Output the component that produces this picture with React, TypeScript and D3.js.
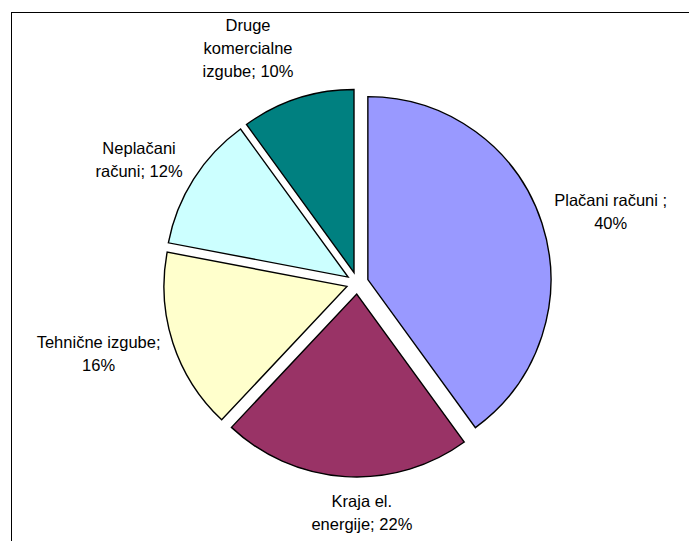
import React, { useMemo } from "react";
import * as d3 from "d3";

const categories = [
  "Plačani računi ",
  "Kraja el. energije",
  "Tehnične izgube",
  "Neplačani računi",
  "Druge komercialne izgube",
];
const values = [40, 22, 16, 12, 10];
const labelLines = [
  ["Plačani računi ;", "40%"],
  ["Kraja el.", "energije; 22%"],
  ["Tehnične izgube;", "16%"],
  ["Neplačani", "računi; 12%"],
  ["Druge", "komercialne", "izgube; 10%"],
];
const colors = ["#9999FF", "#993366", "#FFFFCC", "#CCFFFF", "#008080"];

const W = 689;
const H = 541;
const CX = 357.4;
const CY = 283;
const R = 183;
const EXPLODE = 11;
const LABEL_R = 207;
const FONT = 16.5;
const LINE_H = 23;
const FONT_FAMILY = "'Liberation Sans', Arial, sans-serif";
const labelNudgeX = [0, 28, 0, 0, 0];
const labelNudgeY = [0, 0, 0, 0, -5];

export default function App() {
  const pie = d3
    .pie<number>()
    .sort(null)
    .startAngle(0)
    .endAngle(2 * Math.PI)
    .value((d) => d);
  const arcs = pie(values);
  const arc = d3.arc<d3.PieArcDatum<number>>().innerRadius(0).outerRadius(R);

  const measure = useMemo(() => {
    const c = document.createElement("canvas").getContext("2d");
    if (c) c.font = `${FONT}px ${FONT_FAMILY}`;
    return (s: string) => (c ? c.measureText(s).width : s.length * FONT * 0.5);
  }, []);

  return (
    <svg
      width={W}
      height={H}
      style={{ position: "absolute", left: 0, top: 0, background: "#fff" }}
    >
      <rect x={11.5} y={12.5} width={W + 20} height={H + 20} fill="#fff" stroke="#000" strokeWidth={1} />
      <g transform={`translate(${CX},${CY})`}>
        {arcs.map((a, i) => {
          const mid = (a.startAngle + a.endAngle) / 2;
          const dx = Math.sin(mid) * EXPLODE;
          const dy = -Math.cos(mid) * EXPLODE;
          return (
            <path
              key={i}
              d={arc(a) || ""}
              transform={`translate(${dx},${dy})`}
              fill={colors[i]}
              stroke="#000"
              strokeWidth={1.4}
              strokeLinejoin="miter"
            />
          );
        })}
        {arcs.map((a, i) => {
          const mid = (a.startAngle + a.endAngle) / 2;
          const s = Math.sin(mid);
          const c = Math.cos(mid);
          const ax = s * LABEL_R;
          const ay = -c * LABEL_R;
          const lines = labelLines[i];
          const w = Math.max(...lines.map(measure));
          const h = lines.length * LINE_H;
          const cx = ax + Math.sign(s) * (w / 2) * Math.min(1, Math.abs(s) / 0.3) + labelNudgeX[i];
          const cy = ay - c * (h / 2) + labelNudgeY[i];
          const top = cy - h / 2;
          return (
            <text
              key={"l" + i}
              fontFamily={FONT_FAMILY}
              fontSize={FONT}
              fill="#000"
              textAnchor="middle"
            >
              {lines.map((ln, j) => (
                <tspan key={j} x={cx} y={top + j * LINE_H + LINE_H / 2 + FONT * 0.35}>
                  {ln}
                </tspan>
              ))}
            </text>
          );
        })}
      </g>
    </svg>
  );
}
